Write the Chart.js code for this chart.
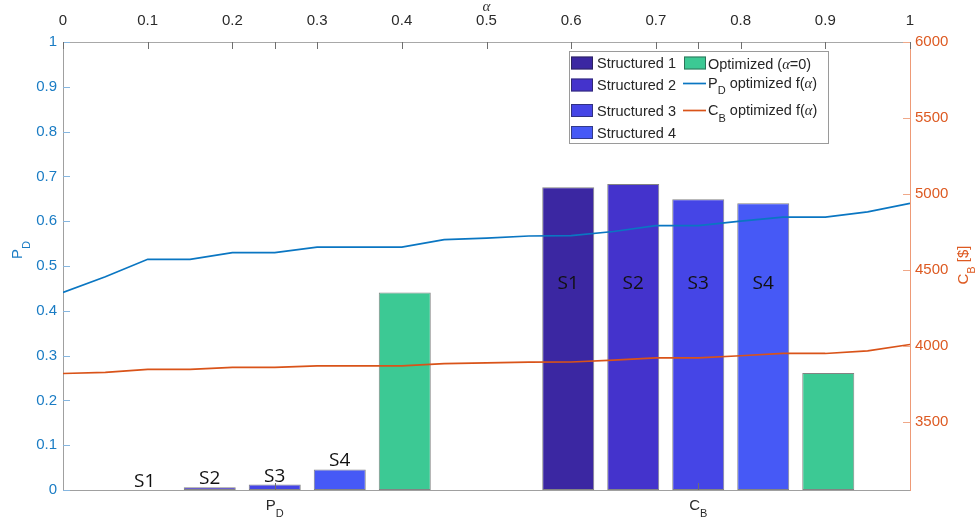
<!DOCTYPE html>
<html><head><meta charset="utf-8">
<script src="https://cdn.jsdelivr.net/npm/chart.js@4.4.1/dist/chart.umd.min.js"></script>
<style>html,body{margin:0;padding:0;background:#fff;overflow:hidden}#wrap{position:relative;width:977px;height:522px}#wrap canvas{position:absolute;left:0;top:0}</style>
</head><body><div id="wrap"><canvas id="cBars" width="977" height="522"></canvas><canvas id="cLines" width="977" height="522"></canvas></div>
<script>
// ---- data ----
const categories = ['P_D', 'C_B'];
const structured1 = [0, 0.676];
const structured2 = [0.006, 0.683];
const structured3 = [0.012, 0.649];
const structured4 = [0.046, 0.640];
const optimized0 = [0.441, 0.261];
const alphaValues = [0, 0.05, 0.1, 0.15, 0.2, 0.25, 0.3, 0.35, 0.4, 0.45, 0.5, 0.55, 0.6, 0.65, 0.7, 0.75, 0.8, 0.85, 0.9, 0.95, 1];
const pdOptimized = [0.441, 0.476, 0.515, 0.515, 0.530, 0.530, 0.542, 0.542, 0.542, 0.559, 0.562, 0.567, 0.568, 0.577, 0.590, 0.590, 0.600, 0.609, 0.609, 0.621, 0.640];
const cbOptimized = [3817, 3824, 3844, 3844, 3858, 3858, 3867, 3867, 3867, 3882, 3887, 3892, 3893, 3905, 3920, 3920, 3934, 3949, 3949, 3966, 4008];
const alphaTicks = [0, 0.1, 0.2, 0.3, 0.4, 0.5, 0.6, 0.7, 0.8, 0.9, 1];
const pdTicks = [0, 0.1, 0.2, 0.3, 0.4, 0.5, 0.6, 0.7, 0.8, 0.9, 1];
const cbTicks = [3500, 4000, 4500, 5000, 5500, 6000];
const barLabels = ['S1', 'S2', 'S3', 'S4'];
const seriesNames = ['Structured 1', 'Structured 2', 'Structured 3', 'Structured 4', 'Optimized (α=0)'];

// ---- styles ----
const barColors = ['#3B27A2', '#4433CC', '#4545E6', '#4659F6', '#3CC994'];
const BLUE = '#0a76c2', ORANGE = '#D95319';
const F = '15px "Liberation Sans"', FSUB = '11px "Liberation Sans"';
const LF = '14.5px "Liberation Sans"', LSUB = '11px "Liberation Sans"', LA = 'italic 14.5px "Liberation Serif"';

function segW(ctx, segs) { let w = 0; for (const s of segs) { ctx.font = s.f; w += ctx.measureText(s.t).width; } return w; }
function drawRich(ctx, segs, x, y, align) {
  const w = segW(ctx, segs);
  let cx = align === 'center' ? x - w / 2 : (align === 'right' ? x - w : x);
  ctx.textAlign = 'left'; ctx.textBaseline = 'alphabetic';
  for (const s of segs) { ctx.font = s.f; ctx.fillText(s.t, cx, y + (s.dy || 0)); cx += ctx.measureText(s.t).width; }
}

Chart.defaults.font.family = '"Liberation Sans"';
const noGrid = {display: false, drawTicks: false};

// ---- chart 1: grouped bars ----
const barSeries = [structured1, structured2, structured3, structured4, optimized0];
const barChart = new Chart(document.getElementById('cBars'), {
  type: 'bar',
  data: {
    labels: categories,
    datasets: barSeries.map((vals, i) => ({
      label: seriesNames[i], data: vals,
      backgroundColor: barColors[i], borderColor: 'rgba(30,30,30,0.55)', borderWidth: 1, borderSkipped: false,
      categoryPercentage: 0.7675, barPercentage: 0.8
    }))
  },
  options: {
    responsive: false, animation: false, devicePixelRatio: 1, events: [],
    layout: {padding: {top: 42, right: 67, left: 0, bottom: 0}},
    plugins: {legend: {display: false}, tooltip: {enabled: false}},
    scales: {
      x: {
        type: 'category', position: 'bottom', offset: true,
        grid: noGrid, border: {display: true, color: '#a0a0a0', width: 1},
        ticks: {display: false},
        afterFit(s) { s.height = 32; }
      },
      y: {
        type: 'linear', position: 'left', min: 0, max: 1,
        grid: noGrid, border: {display: true, color: '#a0a0a0', width: 1},
        afterBuildTicks(s) { s.ticks = pdTicks.map(v => ({value: v})); },
        ticks: {font: {size: 15}, color: '#1a7cc4', padding: 6, autoSkip: false, callback: v => String(v)},
        afterFit(s) { s.width = 63; }
      }
    }
  }
});

// ---- decorations (ticks, rich labels, annotations, legend) ----
const decor = {
  id: 'decor',
  afterDraw(chart) {
    const ctx = chart.ctx, a = chart.chartArea;
    const sx = barChart.scales.x, sy = barChart.scales.y, sx2 = chart.scales.x2, sy2 = chart.scales.y2;
    ctx.save();
    ctx.lineWidth = 1;
    ctx.strokeStyle = '#86b6df';
    pdTicks.forEach(v => { const y = Math.round(sy.getPixelForValue(v)) + 0.5; ctx.beginPath(); ctx.moveTo(a.left, y); ctx.lineTo(a.left + 7, y); ctx.stroke(); });
    ctx.strokeStyle = '#f0a888';
    cbTicks.forEach(v => { const y = Math.round(sy2.getPixelForValue(v)) + 0.5; ctx.beginPath(); ctx.moveTo(a.right - 7, y); ctx.lineTo(a.right, y); ctx.stroke(); });
    ctx.strokeStyle = '#6e6e6e';
    alphaTicks.forEach(v => { const x = Math.round(sx2.getPixelForValue(v)) + 0.5; ctx.beginPath(); ctx.moveTo(x, a.top); ctx.lineTo(x, a.top + 7); ctx.stroke(); });
    categories.forEach((c, i) => {
      const x = Math.round(sx.getPixelForValue(i)) + 0.5;
      ctx.beginPath(); ctx.moveTo(x, a.bottom); ctx.lineTo(x, a.bottom - 7); ctx.stroke();
      ctx.beginPath(); ctx.moveTo(x, a.top); ctx.lineTo(x, a.top + 7); ctx.stroke();
    });
    // bottom category labels with subscripts
    ctx.fillStyle = '#2a2a2a';
    categories.forEach((c, i) => {
      const [m, s] = c.split('_');
      drawRich(ctx, [{t: m, f: F}, {t: s, f: FSUB, dy: 7}], sx.getPixelForValue(i), a.bottom + 20, 'center');
    });
    // axis titles
    ctx.save(); ctx.translate(22, 250); ctx.rotate(-Math.PI / 2); ctx.fillStyle = '#1a7cc4';
    drawRich(ctx, [{t: 'P', f: F}, {t: 'D', f: FSUB, dy: 8}], 0, 0, 'center'); ctx.restore();
    ctx.save(); ctx.translate(968, 265); ctx.rotate(-Math.PI / 2); ctx.fillStyle = '#dd5a22';
    drawRich(ctx, [{t: 'C', f: F}, {t: 'B', f: FSUB, dy: 7}, {t: ' [$]', f: F}], 0, 0, 'center'); ctx.restore();
    // S labels
    ctx.fillStyle = '#111'; ctx.font = '19px "Open Sans"'; ctx.textAlign = 'center';
    barLabels.forEach((lab, i) => {
      const meta = barChart.getDatasetMeta(i);
      const b0 = meta.data[0];
      ctx.textBaseline = 'alphabetic';
      ctx.fillText(lab, b0.x, b0.y - 3);
      const b1 = meta.data[1];
      ctx.textBaseline = 'middle';
      ctx.fillText(lab, b1.x, sy.getPixelForValue(0.46));
    });
    // legend
    const L = {x: 569, y: 51, w: 259, h: 92};
    ctx.fillStyle = '#fff'; ctx.fillRect(L.x, L.y, L.w, L.h);
    ctx.strokeStyle = '#9a9a9a'; ctx.strokeRect(L.x + 0.5, L.y + 0.5, L.w, L.h);
    const col1Centers = [63, 85, 110.5, 132.5];
    for (let i = 0; i < 4; i++) {
      const cy = col1Centers[i];
      ctx.fillStyle = barColors[i]; ctx.fillRect(571, cy - 6.5, 22, 13);
      ctx.strokeStyle = 'rgba(30,30,30,0.5)'; ctx.strokeRect(571.5, cy - 6, 21, 12);
      ctx.fillStyle = '#262626';
      drawRich(ctx, [{t: seriesNames[i], f: LF}], 597, cy + 5.3, 'left');
    }
    ctx.fillStyle = barColors[4]; ctx.fillRect(684, 56.5, 22, 13);
    ctx.strokeStyle = 'rgba(30,30,30,0.5)'; ctx.strokeRect(684.5, 57, 21, 12);
    ctx.fillStyle = '#262626';
    drawRich(ctx, [{t: 'Optimized (', f: LF}, {t: 'α', f: LA}, {t: '=0)', f: LF}], 708, 68.5, 'left');
    ctx.lineWidth = 1.7;
    ctx.strokeStyle = BLUE; ctx.beginPath(); ctx.moveTo(683, 83.5); ctx.lineTo(706, 83.5); ctx.stroke();
    drawRich(ctx, [{t: 'P', f: LF}, {t: 'D', f: LSUB, dy: 6.5}, {t: ' optimized f(', f: LF}, {t: 'α', f: LA}, {t: ')', f: LF}], 708, 87.5, 'left');
    ctx.strokeStyle = ORANGE; ctx.beginPath(); ctx.moveTo(683, 110.5); ctx.lineTo(706, 110.5); ctx.stroke();
    drawRich(ctx, [{t: 'C', f: LF}, {t: 'B', f: LSUB, dy: 7}, {t: ' optimized f(', f: LF}, {t: 'α', f: LA}, {t: ')', f: LF}], 708, 115, 'left');
    ctx.restore();
  }
};

// ---- chart 2: optimized f(alpha) lines on top alpha axis ----
new Chart(document.getElementById('cLines'), {
  type: 'line',
  data: {
    datasets: [
      {label: 'P_D optimized f(α)', data: alphaValues.map((a, i) => ({x: a, y: pdOptimized[i]})),
       xAxisID: 'x2', yAxisID: 'y', borderColor: BLUE, borderWidth: 1.7, pointRadius: 0, tension: 0, fill: false},
      {label: 'C_B optimized f(α)', data: alphaValues.map((a, i) => ({x: a, y: cbOptimized[i]})),
       xAxisID: 'x2', yAxisID: 'y2', borderColor: ORANGE, borderWidth: 1.7, pointRadius: 0, tension: 0, fill: false}
    ]
  },
  options: {
    responsive: false, animation: false, devicePixelRatio: 1, events: [],
    layout: {padding: {top: 0, right: 0, left: 0, bottom: 32}},
    plugins: {legend: {display: false}, tooltip: {enabled: false}},
    scales: {
      x2: {
        type: 'linear', position: 'top', min: 0, max: 1, offset: false,
        grid: noGrid, border: {display: true, color: '#a8a8a8', width: 1},
        afterBuildTicks(s) { s.ticks = alphaTicks.map(v => ({value: v})); },
        ticks: {font: {size: 15}, color: '#2a2a2a', padding: 12, maxRotation: 0, autoSkip: false, callback: v => String(v)},
        title: {display: true, text: 'α', font: {family: '"Liberation Serif"', size: 15, style: 'italic', lineHeight: 1}, color: '#333', padding: {top: 0, bottom: 0}},
        afterFit(s) { s.height = 42; }
      },
      y: {
        type: 'linear', position: 'left', min: 0, max: 1,
        grid: noGrid, border: {display: false}, ticks: {display: false},
        afterFit(s) { s.width = 63; }
      },
      y2: {
        type: 'linear', position: 'right', min: 3050, max: 6000,
        grid: noGrid, border: {display: true, color: '#ee9a76', width: 1},
        afterBuildTicks(s) { s.ticks = cbTicks.map(v => ({value: v})); },
        ticks: {font: {size: 15}, color: '#dd5a22', padding: 5, autoSkip: false, callback: v => String(v)},
        afterFit(s) { s.width = 67; }
      }
    }
  },
  plugins: [decor]
});
</script>
</body></html>
